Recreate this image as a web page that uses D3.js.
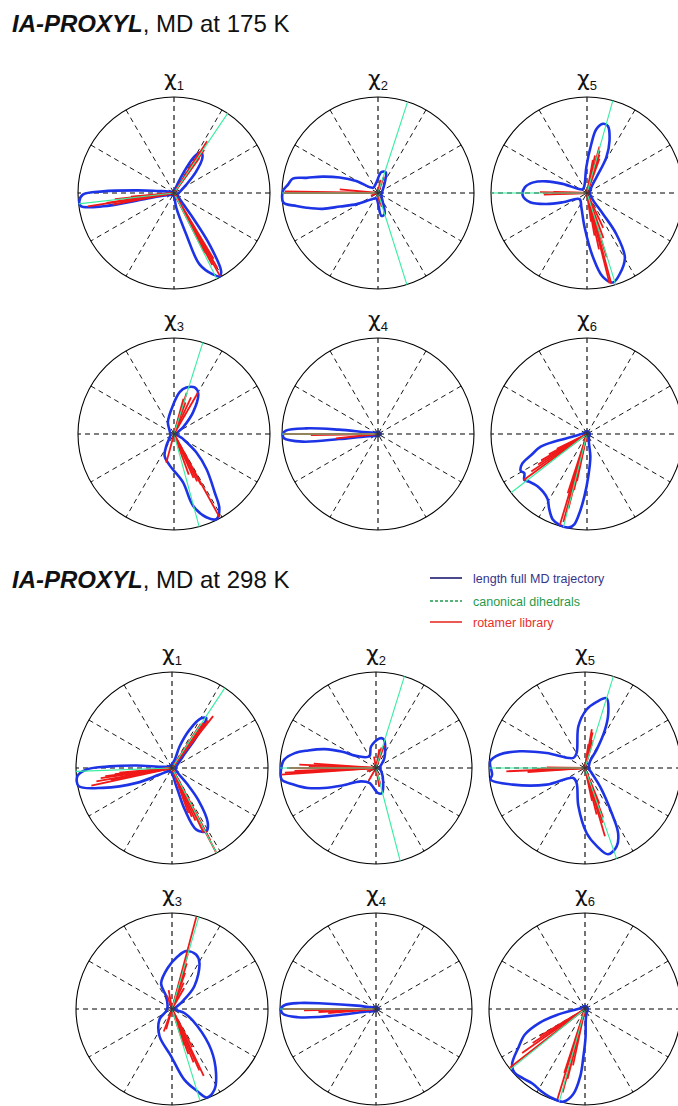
<!DOCTYPE html>
<html><head><meta charset="utf-8">
<script src="https://cdn.jsdelivr.net/npm/d3@7"></script>
<style>body{margin:0;background:#fff}svg{display:block}</style>
</head><body>
<script>
// Dihedral distributions in polar form: [angle in degrees (0 = east, counter-clockwise), normalised population]
const sectionTitles = ["MD at 175 K", "MD at 298 K"];
const panelLabels = ["1", "2", "5", "3", "4", "6"];
const legendLabels = ["length full MD trajectory", "canonical dihedrals", "rotamer library"];

// ---- 175 K ----
const md175Chi1Blue = [[0,0.05],[34,0.155],[44,0.32],[51,0.47],[56,0.51],[60.6,0.44],[63.7,0.29],[68,0.12],[80,0.03],[130,0.02],[165,0.06],[173.7,0.22],[176,0.39],[178.7,0.74],[181,0.95],[185,0.99],[188,0.98],[190.6,0.75],[191.5,0.40],[193,0.15],[210,0.04],[260,0.03],[279,0.16],[286.5,0.45],[289.7,0.79],[295.5,0.94],[298.8,0.99],[301.1,0.95],[304.6,0.65],[307.2,0.33],[311.3,0.115],[330,0.04]];
const md175Chi1Red = [[57.4,0.64],[55,0.55],[58,0.5],[54,0.45],[188.8,0.91],[188.4,0.71],[190.8,0.65],[186,0.62],[189,0.55],[185,0.45],[299,0.99],[300,0.9],[298,0.85],[301,0.8],[297,0.7]];
const md175Chi1Green = [56, 186.5, 296.5];

const md175Chi2Blue = [[0,0.04],[57,0.13],[69.3,0.23],[81,0.22],[99,0.11],[133,0.076],[151,0.26],[158,0.43],[163.5,0.60],[168,0.76],[170.4,0.90],[174.5,0.94],[178.8,0.99],[185.8,0.99],[189,0.86],[191.6,0.76],[196,0.60],[199.6,0.42],[207.6,0.25],[223,0.10],[250,0.06],[278.2,0.24],[287.4,0.23],[297.4,0.11],[330,0.04]];
const md175Chi2Red = [[180,0.99],[179,0.97],[174.5,0.40],[70,0.18],[80,0.14],[285,0.15],[280,0.12],[200,0.08]];
const md175Chi2Green = [72, 180, 287.5];

const md175Chi5Blue = [[0,0.03],[52.6,0.074],[59,0.19],[61.5,0.42],[66.6,0.59],[72.7,0.73],[77,0.74],[81.7,0.67],[85,0.51],[91.5,0.27],[110,0.08],[140,0.06],[159.4,0.27],[164,0.44],[168.8,0.57],[174.8,0.65],[182.4,0.67],[189.2,0.60],[195,0.44],[201,0.27],[219,0.10],[248.4,0.16],[266.1,0.36],[275.3,0.67],[280.7,0.89],[286.2,0.97],[292,0.91],[300.4,0.78],[305.6,0.52],[307.3,0.275],[310,0.1],[330,0.04]];
const md175Chi5Red = [[73.3,0.46],[75,0.5],[78,0.4],[72,0.42],[80,0.35],[70,0.38],[179,0.49],[182,0.45],[178,0.35],[181,0.3],[285,0.98],[284,0.97],[290,0.5],[282,0.6],[287,0.7],[280,0.45],[295,0.4],[278,0.3]];
const md175Chi5Green = [74.4, 180, 287.4];

const md175Chi3Blue = [[0,0.03],[36.5,0.12],[48.7,0.30],[59,0.49],[66.1,0.53],[75.2,0.50],[82.3,0.44],[92,0.30],[117,0.14],[150,0.05],[200,0.04],[237,0.145],[247,0.25],[262.2,0.33],[280.5,0.51],[284.8,0.77],[291.2,0.93],[296.5,0.99],[301.3,0.91],[304.9,0.74],[312.7,0.50],[320.6,0.30],[331,0.11]];
const md175Chi3Red = [[60,0.50],[65,0.42],[70,0.35],[73,0.45],[75,0.38],[298.7,0.99],[298,0.6],[296,0.55],[294,0.5],[290,0.45],[255,0.31]];
const md175Chi3Green = [72.5, 285.2];

const md175Chi4Blue = [[0,0.03],[90,0.02],[160,0.04],[173.6,0.41],[175.5,0.75],[177.9,0.96],[180,0.99],[182.6,0.98],[185.8,0.79],[187.4,0.41],[191,0.13],[220,0.03],[300,0.02]];
const md175Chi4Red = [[180,0.99],[181,0.7],[186,0.44]];
const md175Chi4Green = [180];

const md175Chi6Blue = [[0,0.03],[90,0.03],[170,0.04],[189,0.13],[192.8,0.31],[195.4,0.50],[200.6,0.62],[204.5,0.74],[209,0.79],[212,0.77],[216.3,0.81],[219.6,0.78],[226.9,0.75],[238.6,0.79],[243,0.87],[248.2,0.96],[253.4,0.99],[259.3,0.99],[262,0.95],[264.5,0.83],[267.6,0.65],[271.8,0.44],[278.4,0.24],[282,0.10],[300,0.04]];
const md175Chi6Red = [[216,0.815],[214,0.7],[212,0.6],[210,0.55],[208,0.45],[206,0.35],[253.4,0.99],[255,0.95],[256,0.8],[254,0.7],[257,0.6],[252,0.65],[258,0.5]];
const md175Chi6Green = [217.7, 255.8];

// ---- 298 K ----
const md298Chi1Blue = [[0,0.04],[46.7,0.167],[51.3,0.38],[54,0.58],[55.5,0.63],[59.6,0.60],[65.3,0.44],[70.5,0.24],[72,0.09],[120,0.03],[165,0.05],[176,0.37],[178.5,0.65],[181,0.89],[185,0.99],[191,0.99],[196,0.75],[202.8,0.40],[208,0.146],[240,0.04],[283.3,0.196],[287,0.45],[291.5,0.69],[298.5,0.75],[303.2,0.68],[309.4,0.43],[313.7,0.22],[330,0.05]];
const md298Chi1Red = [[51.6,0.69],[53,0.62],[55,0.58],[57,0.55],[54,0.45],[192.4,0.86],[190,0.8],[188,0.75],[186,0.6],[189,0.5],[187,0.7],[191,0.65],[185,0.55],[297.6,0.99],[296,0.75],[294,0.6],[292,0.55],[298,0.85],[290,0.5]];
const md298Chi1Green = [56.6, 182, 297.6];

const md298Chi2Blue = [[0,0.04],[50,0.136],[75,0.31],[83.6,0.31],[103,0.23],[120,0.14],[147.5,0.23],[154.5,0.40],[159.8,0.57],[165.5,0.73],[169.6,0.86],[174.8,0.96],[181,0.99],[187,0.99],[191.5,0.87],[196.3,0.74],[201,0.58],[206.8,0.41],[221.6,0.21],[246,0.17],[274,0.26],[283,0.27],[309,0.11],[340,0.05]];
const md298Chi2Red = [[184,0.99],[183,0.95],[182,0.85],[177.5,0.8],[176,0.65],[180,0.9],[179,0.7],[70,0.25],[75,0.22],[80,0.2],[280,0.2],[285,0.18],[100,0.12],[200,0.1],[240,0.15]];
const md298Chi2Green = [72.8, 180, 284.6];

const md298Chi5Blue = [[0,0.04],[53,0.087],[57.5,0.23],[62.4,0.45],[67,0.62],[72.8,0.76],[80,0.70],[88.4,0.61],[99,0.44],[119,0.18],[139,0.16],[158.6,0.43],[165.6,0.70],[171,0.90],[176,0.99],[184,0.97],[187,0.99],[193,0.77],[203.5,0.435],[220.6,0.16],[241,0.18],[260,0.40],[271.5,0.68],[278.5,0.82],[285,0.93],[292,0.88],[297,0.76],[300.7,0.54],[309,0.25],[323,0.087]];
const md298Chi5Red = [[80,0.41],[78,0.38],[76,0.3],[82,0.25],[74,0.28],[182.4,0.82],[181,0.5],[179,0.4],[183,0.3],[184,0.6],[286.3,0.74],[288,0.6],[290,0.55],[284,0.5],[292,0.4],[282,0.35]];
const md298Chi5Green = [72.8, 180, 289.2];

const md298Chi3Blue = [[0,0.03],[33.7,0.11],[45.4,0.33],[59.3,0.56],[66.2,0.62],[76.4,0.62],[83.9,0.55],[96,0.43],[113,0.29],[115,0.146],[160,0.05],[201,0.067],[220,0.17],[245.1,0.31],[268.8,0.49],[280,0.75],[287.3,0.90],[291.5,0.99],[297.7,0.95],[304.5,0.81],[313.8,0.59],[326,0.32],[342,0.135]];
const md298Chi3Red = [[75.2,0.99],[74,0.6],[72,0.5],[70,0.4],[66,0.3],[60,0.25],[100,0.2],[110,0.15],[295.4,0.77],[294,0.7],[292,0.6],[290,0.5],[298,0.45],[288,0.4],[254,0.22],[250,0.25]];
const md298Chi3Green = [73.8, 287];

const md298Chi4Blue = [[0,0.03],[90,0.02],[160,0.05],[170,0.2],[174,0.55],[175.5,0.8],[177.5,0.95],[180,0.99],[183,0.97],[186,0.82],[188,0.6],[190,0.3],[195,0.1],[230,0.03],[300,0.02]];
const md298Chi4Red = [[180,0.97],[181,0.75],[183,0.6],[185,0.5]];
const md298Chi4Green = [180];

const md298Chi6Blue = [[0,0.03],[90,0.03],[170,0.05],[192,0.3],[197,0.5],[203,0.68],[210,0.8],[217,0.95],[222,0.99],[228,0.97],[235,0.95],[242,0.97],[250,0.99],[257,0.99],[262,0.9],[266,0.7],[268,0.5],[271,0.3],[275,0.1],[300,0.04]];
const md298Chi6Red = [[218,0.99],[215,0.8],[213,0.65],[211,0.55],[253,0.98],[255,0.9],[256,0.75],[252,0.7],[258,0.6]];
const md298Chi6Green = [219, 254.5];

// ---- layout ----
const W = 678, H = 1106, R = 96;
const sections = [
  { title: sectionTitles[0], titleY: 32, cols: [174, 378, 587], rows: [193, 434],
    panels: [[md175Chi1Blue, md175Chi1Red, md175Chi1Green], [md175Chi2Blue, md175Chi2Red, md175Chi2Green], [md175Chi5Blue, md175Chi5Red, md175Chi5Green],
             [md175Chi3Blue, md175Chi3Red, md175Chi3Green], [md175Chi4Blue, md175Chi4Red, md175Chi4Green], [md175Chi6Blue, md175Chi6Red, md175Chi6Green]] },
  { title: sectionTitles[1], titleY: 588, cols: [172, 376, 585], rows: [768, 1009],
    panels: [[md298Chi1Blue, md298Chi1Red, md298Chi1Green], [md298Chi2Blue, md298Chi2Red, md298Chi2Green], [md298Chi5Blue, md298Chi5Red, md298Chi5Green],
             [md298Chi3Blue, md298Chi3Red, md298Chi3Green], [md298Chi4Blue, md298Chi4Red, md298Chi4Green], [md298Chi6Blue, md298Chi6Red, md298Chi6Green]] }
];

const colors = { blue: "#1d33e6", red: "#f01818", green: "#35eea0", legendBlue: "#1c1c70", legendBlueText: "#35358a", legendGreen: "#1f9a4c", legendRed: "#e8302a" };

const svg = d3.select("body").append("svg").attr("width", W).attr("height", H)
  .style("font-family", "'Liberation Sans', Arial, sans-serif");

const rScale = d3.scaleLinear().domain([0, 1]).range([0, R]);
const toRad = a => a * Math.PI / 180;
// d3 radial angle: 0 at 12 o'clock, clockwise
const radial = d3.lineRadial()
  .angle(d => toRad(90 - d[0]))
  .radius(d => rScale(d[1]))
  .curve(d3.curveCatmullRomClosed.alpha(0.5));
const px = (a, r) => rScale(r) * Math.cos(toRad(a));
const py = (a, r) => -rScale(r) * Math.sin(toRad(a));

function drawPanel(g, blue, red, green, sub) {
  // title
  g.append("text").attr("x", 0).attr("y", -R - 11).attr("text-anchor", "middle")
    .style("font-size", "22px").style("font-family", "'DejaVu Sans', sans-serif").attr("fill", "#111")
    .text("χ").append("tspan").style("font-size", "13px").style("font-family", "'Liberation Sans', sans-serif")
    .attr("dy", 4).text(sub);

  // spokes every 30°
  const spokes = d3.range(0, 180, 30);
  g.selectAll("line.spoke").data(spokes).join("line").attr("class", "spoke")
    .attr("x1", d => px(d, 1)).attr("y1", d => py(d, 1))
    .attr("x2", d => px(d + 180, 1)).attr("y2", d => py(d + 180, 1))
    .attr("stroke", "#000").attr("stroke-width", d => d % 90 === 0 ? 1.1 : 0.9)
    .attr("stroke-dasharray", "5,4");
  g.append("circle").attr("r", R).attr("fill", "none").attr("stroke", "#000").attr("stroke-width", 1.1);

  // full trajectory distribution
  g.append("path").datum(blue).attr("d", radial).attr("fill", "none")
    .attr("stroke", colors.blue).attr("stroke-width", 2.6).attr("stroke-linejoin", "round");

  // rotamer library
  g.selectAll("line.rot").data(red).join("line").attr("class", "rot")
    .attr("x1", 0).attr("y1", 0).attr("x2", d => px(d[0], d[1])).attr("y2", d => py(d[0], d[1]))
    .attr("stroke", colors.red).attr("stroke-width", 1.8);

  // canonical dihedrals
  g.selectAll("line.can").data(green).join("line").attr("class", "can")
    .attr("x1", 0).attr("y1", 0).attr("x2", d => px(d, 1)).attr("y2", d => py(d, 1))
    .attr("stroke", colors.green).attr("stroke-width", 1.1);

  // centre marker
  g.selectAll("line.star").data(d3.range(0, 180, 30)).join("line").attr("class", "star")
    .attr("x1", d => 3.5 * Math.cos(toRad(d))).attr("y1", d => -3.5 * Math.sin(toRad(d)))
    .attr("x2", d => -3.5 * Math.cos(toRad(d))).attr("y2", d => 3.5 * Math.sin(toRad(d)))
    .attr("stroke", "#333").attr("stroke-width", 0.8);
}

sections.forEach(sec => {
  const t = svg.append("text").attr("x", 12).attr("y", sec.titleY).style("font-size", "24px").attr("fill", "#111");
  t.append("tspan").style("font-weight", "bold").style("font-style", "italic").text("IA-PROXYL");
  t.append("tspan").text(", " + sec.title);
  sec.panels.forEach((p, i) => {
    const cx = sec.cols[i % 3], cy = sec.rows[Math.floor(i / 3)];
    const g = svg.append("g").attr("transform", `translate(${cx},${cy})`);
    drawPanel(g, p[0], p[1], p[2], panelLabels[i]);
  });
});

// legend
const legend = svg.append("g").attr("transform", "translate(430,578)");
const legendStyles = [
  { stroke: colors.legendBlue, text: colors.legendBlueText, dash: null },
  { stroke: colors.legendGreen, text: colors.legendGreen, dash: "3,2" },
  { stroke: colors.legendRed, text: colors.legendRed, dash: null }
];
legendLabels.forEach((lab, i) => {
  const y = [0, 23, 44][i];
  legend.append("line").attr("x1", 0).attr("x2", 32).attr("y1", y).attr("y2", y)
    .attr("stroke", legendStyles[i].stroke).attr("stroke-width", 1.6)
    .attr("stroke-dasharray", legendStyles[i].dash);
  legend.append("text").attr("x", 43).attr("y", y + 4.5).style("font-size", "12.5px")
    .attr("fill", legendStyles[i].text).text(lab);
});
</script>
</body></html>
